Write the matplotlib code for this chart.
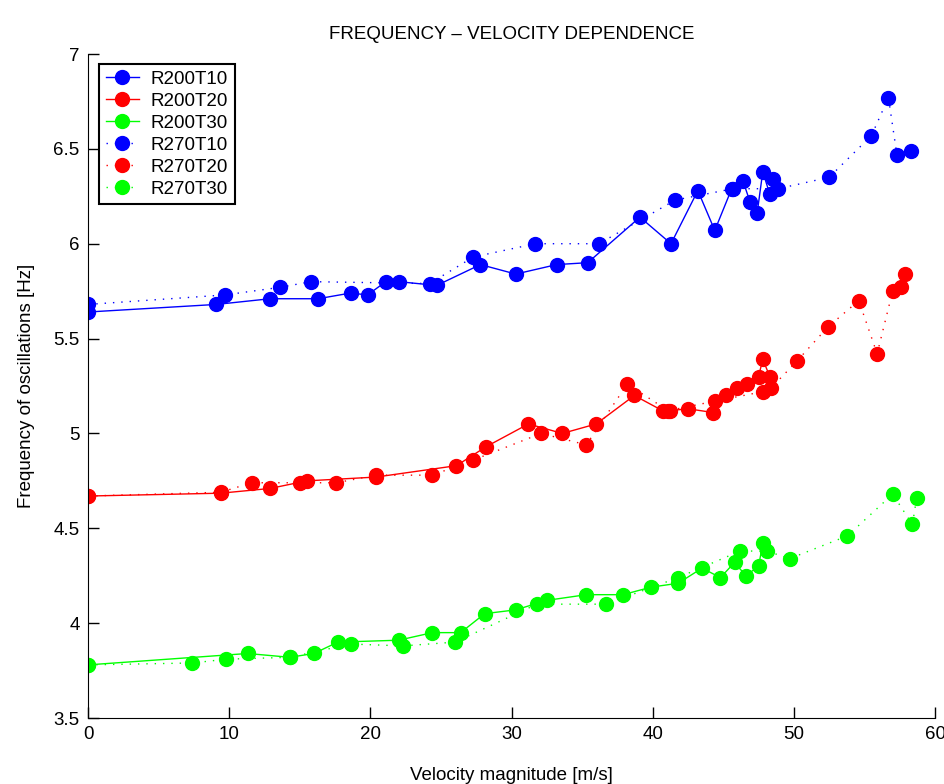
import matplotlib
matplotlib.use("Agg")
import matplotlib.pyplot as plt

plt.rcParams['font.family'] = ['Liberation Sans', 'DejaVu Sans']

# R200 series (solid lines)
r200t10_x = [0, 9.1, 12.9, 16.3, 18.6, 19.8, 21.1, 22.0, 24.7, 27.8, 30.3, 33.2, 35.4, 39.1,
             41.3, 43.2, 44.4, 45.6, 46.4, 46.9, 47.4, 47.8, 48.3, 48.5]
r200t10_y = [5.64, 5.68, 5.71, 5.71, 5.74, 5.73, 5.80, 5.80, 5.78, 5.89, 5.84, 5.89, 5.90, 6.14,
             6.00, 6.28, 6.07, 6.29, 6.33, 6.22, 6.16, 6.38, 6.26, 6.34]

r200t20_x = [0, 9.4, 12.9, 15.5, 20.4, 26.1, 28.2, 31.2, 33.6, 36.0, 38.7, 40.7, 41.2, 42.5,
             44.3, 45.2, 46.0, 46.7, 47.5, 47.8, 48.3]
r200t20_y = [4.67, 4.685, 4.71, 4.75, 4.77, 4.83, 4.93, 5.05, 5.00, 5.05, 5.20, 5.12, 5.12, 5.13,
             5.11, 5.20, 5.24, 5.26, 5.30, 5.39, 5.30]

r200t30_x = [0, 11.3, 14.3, 16.0, 17.7, 22.0, 24.4, 26.4, 28.1, 30.3, 32.5, 35.3, 37.9, 39.9,
             41.8, 43.5, 44.8, 45.8, 46.6, 47.5, 47.8]
r200t30_y = [3.78, 3.84, 3.82, 3.84, 3.90, 3.91, 3.95, 3.95, 4.05, 4.07, 4.12, 4.15, 4.15, 4.19,
             4.21, 4.29, 4.24, 4.32, 4.25, 4.30, 4.42]

# R270 series (dotted lines)
r270t10_x = [0, 9.7, 13.6, 15.8, 24.2, 27.3, 31.7, 36.2, 41.6, 45.7, 48.9, 52.5, 55.5, 56.7,
             57.3, 58.3]
r270t10_y = [5.68, 5.73, 5.77, 5.80, 5.79, 5.93, 6.00, 6.00, 6.23, 6.29, 6.29, 6.35, 6.57, 6.77,
             6.47, 6.49]

r270t20_x = [0, 9.4, 11.6, 15.0, 17.6, 20.4, 24.4, 27.3, 32.1, 35.3, 38.2, 41.1, 44.4, 47.8,
             48.4, 50.2, 52.4, 54.6, 55.9, 57.0, 57.6, 57.9]
r270t20_y = [4.67, 4.69, 4.74, 4.74, 4.74, 4.78, 4.78, 4.86, 5.00, 4.94, 5.26, 5.12, 5.17, 5.22,
             5.24, 5.38, 5.56, 5.70, 5.42, 5.75, 5.77, 5.84]

r270t30_x = [0, 7.4, 9.8, 14.3, 18.6, 22.3, 26.0, 31.8, 36.7, 41.8, 46.2, 48.1, 49.7, 53.8,
             57.0, 58.4, 58.7]
r270t30_y = [3.78, 3.79, 3.81, 3.82, 3.89, 3.88, 3.90, 4.10, 4.10, 4.24, 4.38, 4.38, 4.34, 4.46,
             4.68, 4.52, 4.66]

series = [
    ("R200T10", r200t10_x, r200t10_y, "#0000ff", "-"),
    ("R200T20", r200t20_x, r200t20_y, "#ff0000", "-"),
    ("R200T30", r200t30_x, r200t30_y, "#00ff00", "-"),
    ("R270T10", r270t10_x, r270t10_y, "#0000ff", (0, (1, 5))),
    ("R270T20", r270t20_x, r270t20_y, "#ff0000", (0, (1, 5))),
    ("R270T30", r270t30_x, r270t30_y, "#00ff00", (0, (1, 5))),
]

fs = 13.5

fig = plt.figure(figsize=(9.44, 7.84), dpi=100)
ax = fig.add_axes([88 / 944, 1 - 718 / 784, (935 - 88) / 944, (718 - 54) / 784])

for name, xs, ys, col, ls in series:
    ax.plot(xs, ys, linestyle=ls, color=col, linewidth=1.0, marker='o',
            markersize=10, markeredgecolor=col, markerfacecolor=col, label=name)

ax.set_xlim(0, 60)
ax.set_ylim(3.5, 7)
ax.set_xticks(range(0, 61, 10))
ax.set_yticks([3.5, 4, 4.5, 5, 5.5, 6, 6.5, 7])
ax.set_yticklabels(['3.5', '4', '4.5', '5', '5.5', '6', '6.5', '7'])
ax.tick_params(direction='in', length=8, width=1, labelsize=fs, pad=6)
ax.spines['top'].set_visible(False)
ax.spines['right'].set_visible(False)

ax.set_title('FREQUENCY \u2013 VELOCITY DEPENDENCE', fontsize=fs, pad=11)
ax.set_xlabel('Velocity magnitude [m/s]', fontsize=fs, labelpad=17)
ax.set_ylabel('Frequency of oscillations [Hz]', fontsize=fs, labelpad=13)

leg = ax.legend(loc='upper left', bbox_to_anchor=(0.013, 0.985), borderaxespad=0,
                fancybox=False, framealpha=1, edgecolor='black', fontsize=fs,
                labelspacing=0.26, handlelength=1.8, handletextpad=0.6, borderpad=0.35)
leg.get_frame().set_linewidth(1.5)

fig.savefig('out.png', dpi=100)
